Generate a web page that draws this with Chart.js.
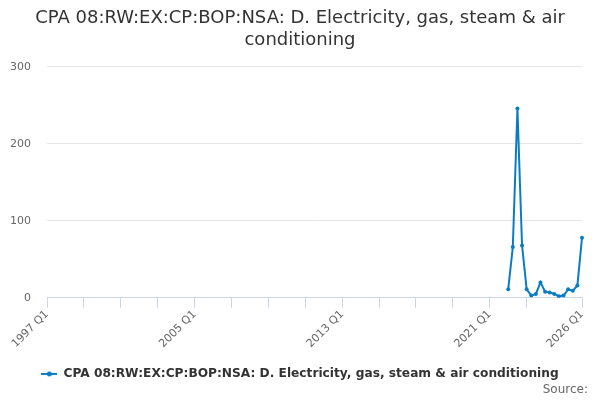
<!DOCTYPE html>
<html>
<head>
<meta charset="utf-8">
<script src="https://cdn.jsdelivr.net/npm/chart.js@4"></script>
<style>
  html, body { margin: 0; padding: 0; background: #fff; }
  #wrap { width: 600px; height: 400px; position: relative; }
</style>
</head>
<body>
<div id="wrap"><canvas id="chart" width="600" height="400"></canvas></div>
<script>
// Quarterly categories from 1997 Q1 to 2026 Q1
const FIRST_YEAR = 1997;
const LAST_YEAR = 2026;
const quarters = [];
for (let y = FIRST_YEAR; y <= LAST_YEAR; y++) {
  for (let q = 1; q <= 4; q++) {
    if (y === LAST_YEAR && q > 1) break;
    quarters.push(y + ' Q' + q);
  }
}

const obsQuarters = [
  '2022 Q1', '2022 Q2', '2022 Q3', '2022 Q4',
  '2023 Q1', '2023 Q2', '2023 Q3', '2023 Q4',
  '2024 Q1', '2024 Q2', '2024 Q3', '2024 Q4',
  '2025 Q1', '2025 Q2', '2025 Q3', '2025 Q4',
  '2026 Q1'
];
const obsValues = [11, 66, 246, 68, 11, 3, 5, 20, 8, 7, 5, 2, 3, 11, 9, 16, 78];

const labelTicks = ['1997 Q1', '2005 Q1', '2013 Q1', '2021 Q1', '2026 Q1'];
const yTicks = [0, 100, 200, 300];

const seriesName = 'CPA 08:RW:EX:CP:BOP:NSA: D. Electricity, gas, steam & air conditioning';
const titleLines = ['CPA 08:RW:EX:CP:BOP:NSA: D. Electricity, gas, steam & air', 'conditioning'];
const sourceText = 'Source:';

const LINE_COLOR = '#0a7cc4';
const AXIS_COLOR = '#ccd6eb';

const seriesData = quarters.map(q => {
  const i = obsQuarters.indexOf(q);
  return i >= 0 ? obsValues[i] : null;
});

// Legend marker: short line with a dot
const marker = document.createElement('canvas');
marker.width = 16; marker.height = 8;
(function () {
  const c = marker.getContext('2d');
  c.strokeStyle = LINE_COLOR;
  c.lineWidth = 2;
  c.beginPath(); c.moveTo(0, 4); c.lineTo(16, 4); c.stroke();
  c.fillStyle = LINE_COLOR;
  c.beginPath(); c.arc(8, 4, 2.5, 0, Math.PI * 2); c.fill();
})();

const lastIdx = quarters.length - 1;

// "Source:" credit in the bottom right corner
const sourceCredit = {
  id: 'sourceCredit',
  afterDraw(chart) {
    const ctx = chart.ctx;
    ctx.save();
    ctx.font = '12px "DejaVu Sans"';
    ctx.fillStyle = '#666666';
    ctx.textAlign = 'right';
    ctx.textBaseline = 'middle';
    ctx.fillText(sourceText, 588, 390);
    ctx.restore();
  }
};

new Chart(document.getElementById('chart'), {
  type: 'line',
  data: {
    labels: quarters,
    datasets: [{
      label: seriesName,
      data: seriesData,
      borderColor: LINE_COLOR,
      backgroundColor: LINE_COLOR,
      borderWidth: 2,
      pointRadius: 2,
      pointHoverRadius: 3,
      pointBorderWidth: 0,
      spanGaps: false,
      tension: 0
    }]
  },
  plugins: [sourceCredit],
  options: {
    responsive: false,
    animation: false,
    devicePixelRatio: 1,
    layout: { padding: { left: 9, right: 9, top: 0, bottom: 10 } },
    plugins: {
      title: {
        display: true,
        text: titleLines,
        color: '#333333',
        font: { family: 'DejaVu Sans', size: 18, weight: 'normal', lineHeight: 1.22 },
        padding: { top: 7, bottom: 16 }
      },
      legend: {
        position: 'bottom',
        labels: {
          usePointStyle: true,
          pointStyle: marker,
          pointStyleWidth: 16,
          color: '#333333',
          font: { family: 'DejaVu Sans', size: 12.2, weight: 'bold' },
          padding: 8
        }
      },
      tooltip: { enabled: false }
    },
    scales: {
      x: {
        type: 'category',
        offset: false,
        border: { color: AXIS_COLOR, width: 1 },
        grid: {
          drawOnChartArea: false,
          drawTicks: true,
          tickLength: 10,
          color: ctx => ((ctx.index % 8 === 0 && ctx.index < 112) || ctx.index === lastIdx) ? AXIS_COLOR : 'rgba(0,0,0,0)'
        },
        ticks: {
          autoSkip: false,
          maxRotation: 45,
          minRotation: 45,
          padding: 0,
          color: '#666666',
          font: { family: 'DejaVu Sans', size: 11 },
          callback: function (val, idx) {
            const lab = this.getLabelForValue(val);
            return labelTicks.includes(lab) ? lab : '';
          }
        },
        afterFit: scale => { scale.height = 62; }
      },
      y: {
        min: 0,
        max: 300,
        border: { display: false },
        grid: {
          color: ctx => ctx.tick && ctx.tick.value === 0 ? 'rgba(0,0,0,0)' : '#e6e6e6',
          drawTicks: false
        },
        afterBuildTicks: scale => { scale.ticks = yTicks.map(v => ({ value: v })); },
        ticks: {
          padding: 16,
          color: '#666666',
          font: { family: 'DejaVu Sans', size: 11 }
        },
        afterFit: scale => { scale.width = 38; }
      },
      // empty right-hand spacer so the plot ends where the reference does
      yRight: {
        type: 'linear',
        position: 'right',
        border: { display: false },
        grid: { display: false },
        ticks: { display: false },
        afterFit: scale => { scale.width = 9; }
      }
    }
  }
});
</script>
</body>
</html>
